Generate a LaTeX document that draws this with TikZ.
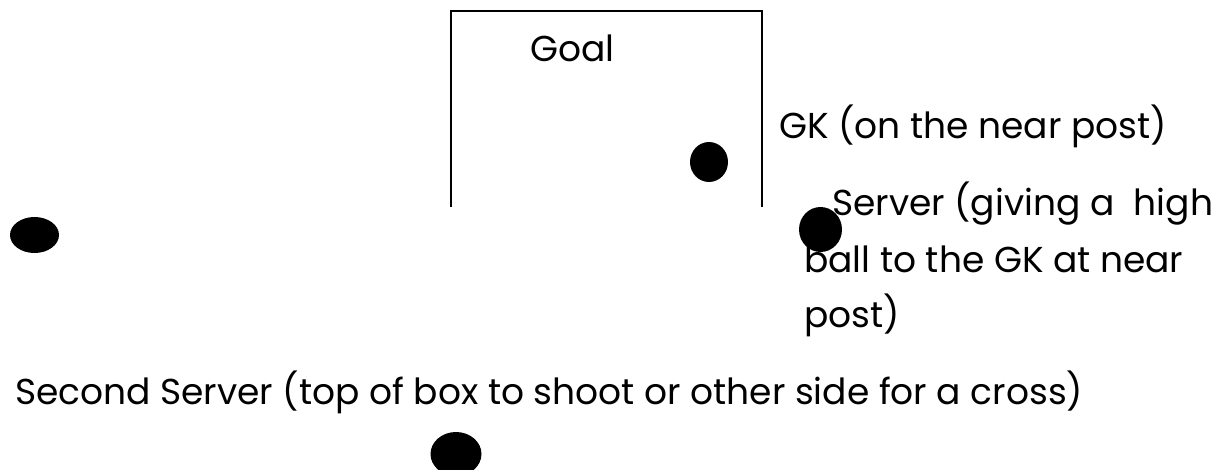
\documentclass[tikz,border=0pt]{standalone}
\usepackage{fontspec}
\setmainfont{Poppins}
\usetikzlibrary{shapes.geometric}
\tikzset{
  dot/.style={ellipse, fill=black, draw=none, inner sep=0pt},
  lbl/.style={anchor=base west, inner sep=0pt, font=\fontsize{36}{44}\selectfont},
  post/.style={line width=1.2pt, black}
}
\begin{document}
\begin{tikzpicture}[x=1pt,y=-1pt]
\useasboundingbox (0,0) rectangle (1212,469);
\clip (0,0) rectangle (1212,469);
\fill[white] (0,0) rectangle (1212,469);
% goal frame
\coordinate (lpb) at (451,207);
\coordinate (lpt) at (451,11);
\coordinate (rpt) at (762,11);
\coordinate (rpb) at (762,207);
\draw[post] (lpb) -- (lpt) -- (rpt) -- (rpb);
\node[lbl, anchor=base] (goal) at (572.5,61) {Goal};
% players
\node[dot, minimum width=38pt, minimum height=40pt] (gk) at (709,162) {};
\node[dot, minimum width=49pt, minimum height=36pt] (left) at (34.5,235) {};
\node[dot, minimum width=43pt, minimum height=45pt] (server) at (820.5,229.5) {};
\node[dot, minimum width=51pt, minimum height=44pt] (second) at (456,454) {};
% labels
\node[lbl] (gklbl) at (779,138) {GK (on the near post)};
\node[lbl] (srv1) at (832,215) {Server (giving a \ high};
\node[lbl] (srv2) at (804,272) {ball to the GK at near};
\node[lbl] (srv3) at (804,327) {post)};
\node[lbl] (sec) at (15,404) {Second Server (top of box to shoot or other side for a cross)};
\end{tikzpicture}
\end{document}
